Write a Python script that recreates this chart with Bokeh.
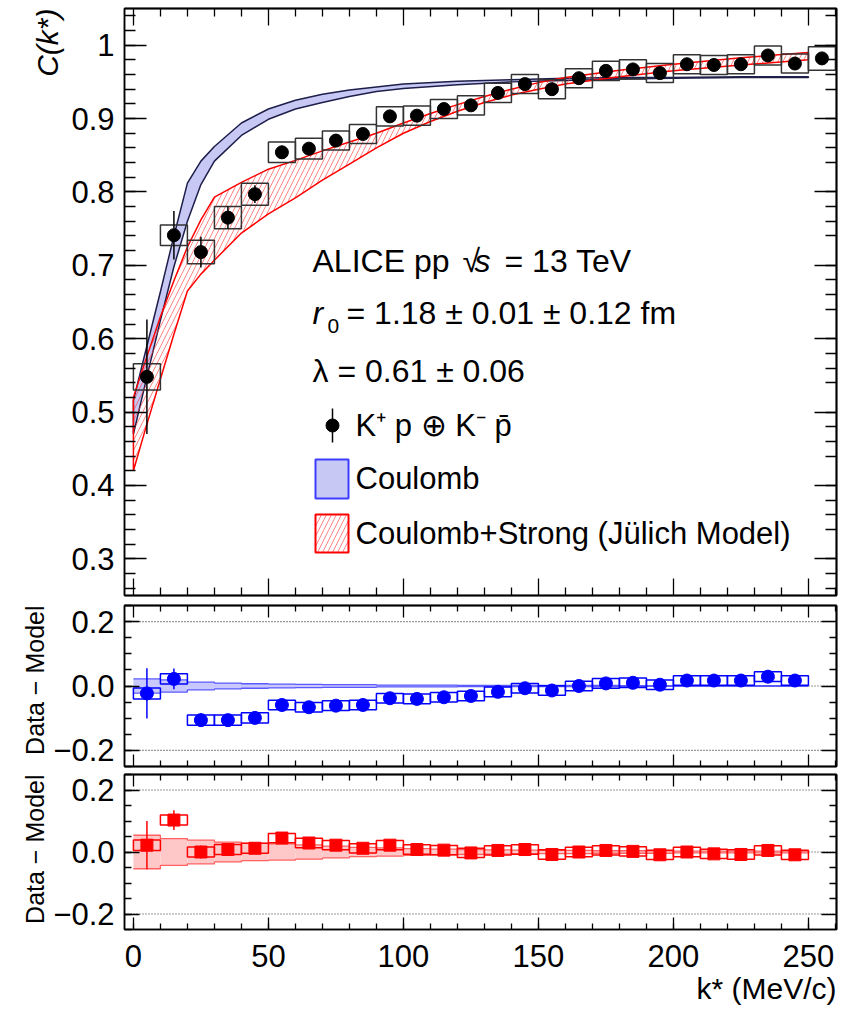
import math
from bokeh.plotting import figure
from bokeh.models import (LinearAxis, SingleIntervalTicker, FixedTicker, CustomJSTickFormatter,
                          Range1d, Label, Span, BoxAnnotation, Title)
from bokeh.layouts import column
from bokeh.embed import file_html
from bokeh.resources import INLINE

FONT = "Liberation Sans"

# ---------------- data ----------------
k_bins = [5, 15, 25, 35, 45, 55, 65, 75, 85, 95, 105, 115, 125, 135, 145, 155, 165,
          175, 185, 195, 205, 215, 225, 235, 245, 255]
cf_values = [0.548, 0.741, 0.718, 0.765, 0.797, 0.854, 0.859, 0.870, 0.879, 0.903, 0.904,
             0.913, 0.918, 0.935, 0.947, 0.940, 0.955, 0.965, 0.967, 0.962, 0.974, 0.973,
             0.974, 0.986, 0.975, 0.982]
cf_stat = [0.078, 0.033, 0.021, 0.015, 0.012, 0.009, 0.008, 0.007, 0.006, 0.006, 0.005,
           0.005, 0.005, 0.004, 0.004, 0.004, 0.004, 0.004, 0.004, 0.003, 0.003, 0.003,
           0.003, 0.003, 0.003, 0.003]
cf_syst = [0.018, 0.014, 0.016, 0.015, 0.015, 0.014, 0.014, 0.013, 0.013, 0.013, 0.013,
           0.013, 0.013, 0.013, 0.013, 0.013, 0.013, 0.013, 0.013, 0.013, 0.013, 0.013,
           0.013, 0.013, 0.013, 0.016]

# Coulomb-only model band
coul_k = [0, 5, 10, 15, 20, 25, 30, 40, 50, 60, 70, 80, 90, 100, 120, 140, 160, 180, 200, 225, 250]
coul_hi = [0.516, 0.590, 0.664, 0.740, 0.812, 0.842, 0.862, 0.894, 0.913, 0.925, 0.933, 0.939,
           0.943, 0.947, 0.951, 0.953, 0.955, 0.956, 0.956, 0.957, 0.957]
coul_lo = [0.470, 0.548, 0.625, 0.698, 0.760, 0.810, 0.842, 0.877, 0.899, 0.913, 0.922, 0.930,
           0.937, 0.941, 0.946, 0.950, 0.952, 0.954, 0.955, 0.956, 0.956]

# Coulomb + Strong (Juelich) model band
cs_k = [0, 4, 10, 15, 20, 25, 30, 40, 50, 60, 70, 80, 90, 100, 110, 120, 130, 140, 150, 160,
        180, 200, 225, 250]
cs_hi = [0.520, 0.565, 0.630, 0.679, 0.725, 0.762, 0.793, 0.813, 0.831, 0.843, 0.856, 0.868,
         0.880, 0.894, 0.907, 0.919, 0.930, 0.940, 0.949, 0.956, 0.966, 0.974, 0.983, 0.990]
cs_lo = [0.420, 0.471, 0.545, 0.606, 0.665, 0.688, 0.707, 0.744, 0.770, 0.792, 0.816, 0.838,
         0.860, 0.880, 0.896, 0.910, 0.922, 0.932, 0.940, 0.947, 0.957, 0.965, 0.973, 0.980]

# residuals (Data - Model)
res_k = [5, 15, 25, 35, 45, 55, 65, 75, 85, 95, 105, 115, 125, 135, 145, 155, 165, 175, 185,
         195, 205, 215, 225, 235, 245]
res_coul = [-0.023, 0.022, -0.106, -0.106, -0.099, -0.059, -0.066, -0.061, -0.059, -0.038,
            -0.040, -0.035, -0.031, -0.018, -0.007, -0.014, 0.000, 0.008, 0.010, 0.004,
            0.017, 0.017, 0.017, 0.029, 0.017]
res_cs = [0.022, 0.103, 0.000, 0.008, 0.012, 0.045, 0.029, 0.022, 0.012, 0.022, 0.008, 0.006,
          -0.003, 0.005, 0.008, -0.008, 0.000, 0.005, 0.002, -0.009, 0.000, -0.006, -0.008,
          0.005, -0.009]
res_stat = [0.078, 0.032, 0.021, 0.015, 0.012, 0.009, 0.008, 0.007, 0.006, 0.006, 0.005,
            0.005, 0.005, 0.004, 0.004, 0.004, 0.004, 0.004, 0.004, 0.003, 0.003, 0.003,
            0.003, 0.003, 0.003]
res_syst = [0.017, 0.016, 0.016, 0.016, 0.016, 0.015, 0.015, 0.015, 0.015, 0.015, 0.015,
            0.015, 0.015, 0.015, 0.015, 0.015, 0.015, 0.015, 0.015, 0.015, 0.015, 0.015,
            0.015, 0.015, 0.015]
band_coul_hw = [0.022, 0.019, 0.012, 0.009, 0.007, 0.006, 0.005, 0.004, 0.004, 0.003, 0.003,
                0.003, 0.002, 0.002, 0.002, 0.002, 0.002, 0.002, 0.001, 0.001, 0.001, 0.001,
                0.001, 0.001, 0.001]
band_cs_hw = [0.054, 0.043, 0.038, 0.032, 0.028, 0.026, 0.023, 0.019, 0.015, 0.013, 0.011,
              0.009, 0.008, 0.007, 0.006, 0.005, 0.005, 0.004, 0.004, 0.004, 0.003, 0.003,
              0.003, 0.003, 0.003]
BIN_W = 10

# tick positions
x_major = [0, 50, 100, 150, 200, 250]
x_minor = [v for v in range(10, 261, 10) if v % 50 != 0]
y1_major = [round(0.3 + 0.1 * i, 2) for i in range(8)]
y1_minor = [round(0.26 + 0.02 * i, 2) for i in range(40) if (i + 2) % 5 != 0]
yr_major = [-0.2, 0.0, 0.2]
yr_minor = [-0.15, -0.1, -0.05, 0.05, 0.1, 0.15]

# ---------------- geometry ----------------
W = 846
FL, FR = 124, 836
X0, X1 = -3.3, 260.4
PANELS = {1: (8, 595, 0.25, 1.05), 2: (605, 766, -0.25, 0.25), 3: (774, 929, -0.25, 0.25)}
HATCH = dict(hatch_pattern="/", hatch_color="#ff3030", hatch_alpha=0.75, hatch_scale=10,
             hatch_weight=0.8)


def xd(px):
    return X0 + (px - FL) * (X1 - X0) / (FR - FL)


def yd(panel, py):
    top, bot, y0, y1 = PANELS[panel]
    return y1 - (py - top) * (y1 - y0) / (bot - top)


def add_text(p, panel, text, px, py, size, style="normal", align="left"):
    p.add_layout(Label(x=xd(px), y=yd(panel, py), text=text, text_font=FONT,
                       text_font_size=f"{size}px", text_font_style=style, text_align=align,
                       text_baseline="middle", text_color="black"))


def base_axis(ax):
    ax.axis_line_color = "black"
    ax.axis_line_width = 1.5
    ax.major_tick_line_color = "black"
    ax.major_tick_line_width = 1.3
    ax.minor_tick_line_color = "black"
    ax.minor_tick_line_width = 1.3
    ax.major_tick_out = 0
    ax.minor_tick_out = 0


def tick_only_axes(p, side, majors, minors, maj_len, min_len):
    # axes without labels: tick positions given as "minor" ticks so no labels are drawn
    for ticks, length in ((majors, maj_len), (minors, min_len)):
        ax = LinearAxis(ticker=FixedTicker(ticks=[], minor_ticks=ticks))
        base_axis(ax)
        ax.major_tick_in = 0
        ax.minor_tick_in = length
        ax.major_label_standoff = 0
        p.add_layout(ax, side)


def make_fig(panel, height, btop, bbot, x_labels, yint, yminor, ymajors, yminors, ymaj, ymin,
             xmaj, xmin, ycode, ysize):
    top, bot, y0, y1 = PANELS[panel]
    p = figure(width=W, height=height, x_range=Range1d(X0, X1), y_range=Range1d(y0, y1),
               output_backend="svg", toolbar_location=None, x_axis_location=None,
               y_axis_location=None,
               min_border_left=FL, min_border_right=W - FR,
               min_border_top=btop, min_border_bottom=bbot)
    p.xgrid.visible = False
    p.ygrid.visible = False
    p.outline_line_color = "black"
    p.outline_line_width = 1.5
    p.background_fill_color = "white"
    p.border_fill_color = "white"
    # left labelled y axis
    ay = LinearAxis(ticker=SingleIntervalTicker(interval=yint, num_minor_ticks=yminor),
                    formatter=CustomJSTickFormatter(code=ycode))
    base_axis(ay)
    ay.major_tick_in = ymaj
    ay.minor_tick_in = ymin
    ay.major_label_text_font = FONT
    ay.major_label_text_font_size = ysize
    ay.major_label_text_color = "black"
    ay.major_label_standoff = 10
    p.add_layout(ay, "left")
    tick_only_axes(p, "right", ymajors, yminors, ymaj, ymin)
    tick_only_axes(p, "above", x_major, x_minor, xmaj, xmin)
    if x_labels:
        ax = LinearAxis(ticker=SingleIntervalTicker(interval=50, num_minor_ticks=5))
        base_axis(ax)
        ax.major_tick_in = xmaj
        ax.minor_tick_in = xmin
        ax.major_label_text_font = FONT
        ax.major_label_text_font_size = "31px"
        ax.major_label_text_color = "black"
        ax.major_label_standoff = 15
        p.add_layout(ax, "below")
    else:
        tick_only_axes(p, "below", x_major, x_minor, xmaj, xmin)
    return p


# ---------------- top panel ----------------
p1 = make_fig(1, 600, 8, 5, False, 0.1, 5, y1_major, y1_minor, 22, 11, 17, 8,
              "return tick > 0.999 ? '1' : tick.toFixed(1);", "31px")

p1.patch(coul_k + coul_k[::-1], coul_hi + coul_lo[::-1], fill_color="#c8c8f5",
         line_color="#1e1e4a", line_width=1.5)
p1.patch(cs_k + cs_k[::-1], cs_hi + cs_lo[::-1], fill_color=None, fill_alpha=0,
         line_color="#ff0000", line_width=1.5, **HATCH)

p1.quad(left=[k - BIN_W / 2 for k in k_bins], right=[k + BIN_W / 2 for k in k_bins],
        bottom=[v - s for v, s in zip(cf_values, cf_syst)],
        top=[v + s for v, s in zip(cf_values, cf_syst)],
        fill_color=None, line_color="#333333", line_width=1.5)
p1.segment(x0=k_bins, x1=k_bins, y0=[v - s for v, s in zip(cf_values, cf_stat)],
           y1=[v + s for v, s in zip(cf_values, cf_stat)], line_color="black", line_width=1.5)
p1.scatter(k_bins, cf_values, size=13, color="black")

# header text
add_text(p1, 1, "ALICE pp", 312, 260, 32)
add_text(p1, 1, "√", 462, 260, 32)
add_text(p1, 1, "s", 474, 260, 32, style="italic")
add_text(p1, 1, "= 13 TeV", 504, 260, 32)
add_text(p1, 1, "r", 312, 312, 32, style="italic")
add_text(p1, 1, "0", 327, 325, 21)
add_text(p1, 1, "= 1.18 ± 0.01 ± 0.12 fm", 346, 312, 32)
add_text(p1, 1, "λ = 0.61 ± 0.06", 312, 370, 32)

# legend
p1.segment(x0=[xd(332)], x1=[xd(332)], y0=[yd(1, 408)], y1=[yd(1, 442)],
           line_color="black", line_width=1.5)
p1.scatter([xd(332)], [yd(1, 425)], size=13, color="black")
add_text(p1, 1, "K⁺ p ⊕ K⁻ p̄", 355, 425, 31)
p1.add_layout(BoxAnnotation(left=xd(315), right=xd(348), top=yd(1, 459), bottom=yd(1, 498),
                            fill_color="#c8c8f5", fill_alpha=1.0, line_color="#3c3cff",
                            line_width=2, line_alpha=1.0))
add_text(p1, 1, "Coulomb", 355, 478, 31)
p1.add_layout(BoxAnnotation(left=xd(315), right=xd(348), top=yd(1, 514), bottom=yd(1, 552),
                            fill_color=None, fill_alpha=0, line_color="#ff0000", line_width=2,
                            line_alpha=1.0, **HATCH))
add_text(p1, 1, "Coulomb+Strong (Jülich Model)", 355, 533, 31)

p1.add_layout(Title(text="C(k*)", align="right", text_font=FONT, text_font_size="30px",
                    text_font_style="italic", text_color="black", standoff=10), "left")

# ---------------- residual panels ----------------
RES_FMT = "var s = Math.abs(tick).toFixed(1); return (tick < -1e-9 ? '\u2212' : '') + s;"
edges = [k - BIN_W / 2 for k in res_k] + [res_k[-1] + BIN_W / 2]


def residual_panel(panel, height, btop, bbot, x_labels, vals, hw, color, band_fill,
                   band_line, marker, msize):
    p = make_fig(panel, height, btop, bbot, x_labels, 0.2, 4, yr_major, yr_minor, 15, 7, 12, 6,
                 RES_FMT, "31px")
    for loc in yr_major:
        p.add_layout(Span(location=loc, dimension="width", line_color="#333333",
                          line_dash="1 2", line_width=1.2, level="underlay"))
    p.quad(left=edges[:-1], right=edges[1:], bottom=[-h for h in hw], top=hw,
           fill_color=band_fill, line_color=None)
    p.step(edges, hw + [hw[-1]], mode="after", line_color=band_line, line_width=1.3)
    p.step(edges, [-h for h in hw] + [-hw[-1]], mode="after", line_color=band_line,
           line_width=1.3)
    p.quad(left=edges[:-1], right=edges[1:],
           bottom=[v - s for v, s in zip(vals, res_syst)],
           top=[v + s for v, s in zip(vals, res_syst)],
           fill_color=None, line_color=color, line_width=1.5)
    p.segment(x0=res_k, x1=res_k, y0=[v - s for v, s in zip(vals, res_stat)],
              y1=[v + s for v, s in zip(vals, res_stat)], line_color=color, line_width=1.5)
    p.scatter(res_k, vals, size=msize, marker=marker, color=color)
    p.add_layout(Title(text="Data − Model", align="right", text_font=FONT,
                       text_font_size="25px", text_font_style="normal", text_color="black",
                       standoff=4), "left")
    return p


p2 = residual_panel(2, 170, 5, 4, False, res_coul, band_coul_hw, "#0000ff", "#c8c8ff",
                    "#5a5aff", "circle", 13)
p3 = residual_panel(3, 243, 4, 84, True, res_cs, band_cs_hw, "#ff0000", "#ffc8c8",
                    "#ff6060", "square", 12)
p3.add_layout(Title(text="k* (MeV/c)", align="right", text_font=FONT, text_font_size="30px",
                    text_font_style="normal", text_color="black", standoff=0), "below")

layout = column(p1, p2, p3, spacing=0)
open("out.html", "w").write(file_html(layout, INLINE))
